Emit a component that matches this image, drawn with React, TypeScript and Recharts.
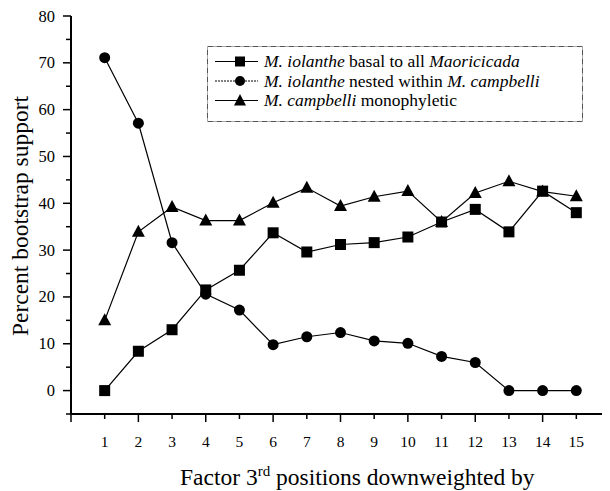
import React from 'react';
import { LineChart, Line, XAxis, YAxis, Legend } from 'recharts';

// x: factor by which 3rd positions were downweighted
const factors = [1, 2, 3, 4, 5, 6, 7, 8, 9, 10, 11, 12, 13, 14, 15];
const basalSupport = [0, 8.4, 13.0, 21.5, 25.7, 33.7, 29.6, 31.2, 31.6, 32.8, 36.0, 38.7, 33.9, 42.6, 38.0];
const nestedSupport = [71.1, 57.1, 31.6, 20.6, 17.2, 9.8, 11.5, 12.4, 10.6, 10.1, 7.3, 6.0, 0, 0, 0];
const monoSupport = [15.0, 33.9, 39.2, 36.3, 36.3, 40.1, 43.3, 39.4, 41.4, 42.6, 36.0, 42.2, 44.7, 42.5, 41.5];

const xTicks = [0, 1, 2, 3, 4, 5, 6, 7, 8, 9, 10, 11, 12, 13, 14, 15, 16];
const yTicks = [-5, 0, 5, 10, 15, 20, 25, 30, 35, 40, 45, 50, 55, 60, 65, 70, 75, 80];

const data = factors.map((f, i) => ({
  x: f,
  basal: basalSupport[i],
  nested: nestedSupport[i],
  mono: monoSupport[i],
}));

const FONT = '"Liberation Serif", "Times New Roman", serif';

const SquareDot = (props: any) => {
  const { cx, cy } = props;
  if (cx == null || cy == null) return null;
  return <rect x={cx - 5.5} y={cy - 5.5} width={11} height={11} fill="#000" />;
};

const CircleDot = (props: any) => {
  const { cx, cy } = props;
  if (cx == null || cy == null) return null;
  return <circle cx={cx} cy={cy} r={5.5} fill="#000" />;
};

const TriangleDot = (props: any) => {
  const { cx, cy } = props;
  if (cx == null || cy == null) return null;
  return <polygon points={`${cx},${cy - 7} ${cx - 6.5},${cy + 5} ${cx + 6.5},${cy + 5}`} fill="#000" />;
};

const XTick = (props: any) => {
  const { x, y, payload } = props;
  const v = payload.value;
  const len = v % 2 === 0 ? 8 : 5;
  return (
    <g>
      <line x1={x} y1={y - 8} x2={x} y2={y - 8 + len} stroke="#000" strokeWidth={1.5} />
      {v >= 1 && v <= 15 && (
        <text x={x} y={y + 25} textAnchor="middle" style={{ fontFamily: FONT }} fontSize={15.5} fill="#000">
          {v}
        </text>
      )}
    </g>
  );
};

const YTick = (props: any) => {
  const { x, y, payload } = props;
  const v = payload.value;
  const major = v % 10 === 0;
  const len = major ? 8 : 5;
  return (
    <g>
      <line x1={x + 8} y1={y} x2={x + 8 - len} y2={y} stroke="#000" strokeWidth={1.5} />
      {major && v >= 0 && (
        <text x={x - 8} y={y + 5.5} textAnchor="end" style={{ fontFamily: FONT }} fontSize={16.5} fill="#000">
          {v}
        </text>
      )}
    </g>
  );
};

const legendItems = [
  { marker: 'square', parts: [['i', 'M. iolanthe'], ['n', ' basal to all '], ['i', 'Maoricicada']] },
  { marker: 'circle', parts: [['i', 'M. iolanthe'], ['n', ' nested within '], ['i', 'M. campbelli']] },
  { marker: 'triangle', parts: [['i', 'M. campbelli'], ['n', ' monophyletic']] },
];

const renderLegend = () => (
  <svg width={376} height={76} style={{ display: 'block' }}>
    <rect x={0.5} y={0.5} width={375} height={75} fill="#fff" stroke="#555" strokeWidth={1} strokeDasharray="6 1 1 1" />
    {legendItems.map((item, i) => {
      const cy = 15.5 + i * 19.5;
      return (
        <g key={i}>
          <line x1={8} y1={cy} x2={51} y2={cy} stroke="#000" strokeWidth={1} strokeDasharray={i === 1 ? '2 1' : undefined} />
          {item.marker === 'square' && <rect x={28} y={cy - 5} width={10} height={10} fill="#000" />}
          {item.marker === 'circle' && <circle cx={33} cy={cy} r={5} fill="#000" />}
          {item.marker === 'triangle' && (
            <polygon points={`33,${cy - 6.5} ${27},${cy + 5} ${39},${cy + 5}`} fill="#000" />
          )}
          <text x={57} y={cy + 5.5} style={{ fontFamily: FONT }} fontSize={17.5} fill="#000">
            {item.parts.map(([style, txt], j) => (
              <tspan key={j} fontStyle={style === 'i' ? 'italic' : 'normal'}>
                {txt}
              </tspan>
            ))}
          </text>
        </g>
      );
    })}
  </svg>
);

const XLabel = (props: any) => (
  <text x={180} y={485} style={{ fontFamily: FONT }} fontSize={23.5} fill="#000">
    Factor 3<tspan dy={-9} fontSize={15}>rd</tspan>
    <tspan dy={9}> positions downweighted by</tspan>
  </text>
);

const YLabel = (props: any) => (
  <text
    x={0}
    y={0}
    transform="translate(28, 216) rotate(-90)"
    textAnchor="middle"
    style={{ fontFamily: FONT }}
    fontSize={23.5}
    fill="#000"
  >
    Percent bootstrap support
  </text>
);

export default function App() {
  // extra 8px of height offsets the negative bottom margin so the page is a full 491px tall
  return (
    <div style={{ margin: -8, width: 610, height: 499, background: '#fff', position: 'relative' }}>
      <LineChart
        width={610}
        height={491}
        data={data}
        margin={{ top: 16, right: 0, bottom: 47, left: 21 }}
      >
        <XAxis
          dataKey="x"
          type="number"
          domain={[0, 16]}
          ticks={xTicks}
          interval={0}
          allowDataOverflow
          axisLine={{ stroke: '#000', strokeWidth: 2 }}
          tickLine={false}
          tick={<XTick />}
          height={30}
          label={<XLabel />}
        />
        <YAxis
          type="number"
          domain={[-5, 80]}
          ticks={yTicks}
          interval={0}
          allowDataOverflow
          axisLine={{ stroke: '#000', strokeWidth: 2 }}
          tickLine={false}
          tick={<YTick />}
          width={50}
          label={<YLabel />}
        />
        <Legend
          content={renderLegend}
          layout="horizontal"
          verticalAlign="middle"
          align="center"
          wrapperStyle={{ position: 'absolute', left: 207, top: 46, width: 376, height: 76 }}
        />
        <Line type="linear" dataKey="basal" stroke="#000" strokeWidth={1.2} dot={<SquareDot />} activeDot={false} isAnimationActive={false} />
        <Line type="linear" dataKey="nested" stroke="#000" strokeWidth={1.2} dot={<CircleDot />} activeDot={false} isAnimationActive={false} />
        <Line type="linear" dataKey="mono" stroke="#000" strokeWidth={1.2} dot={<TriangleDot />} activeDot={false} isAnimationActive={false} />
      </LineChart>
    </div>
  );
}
